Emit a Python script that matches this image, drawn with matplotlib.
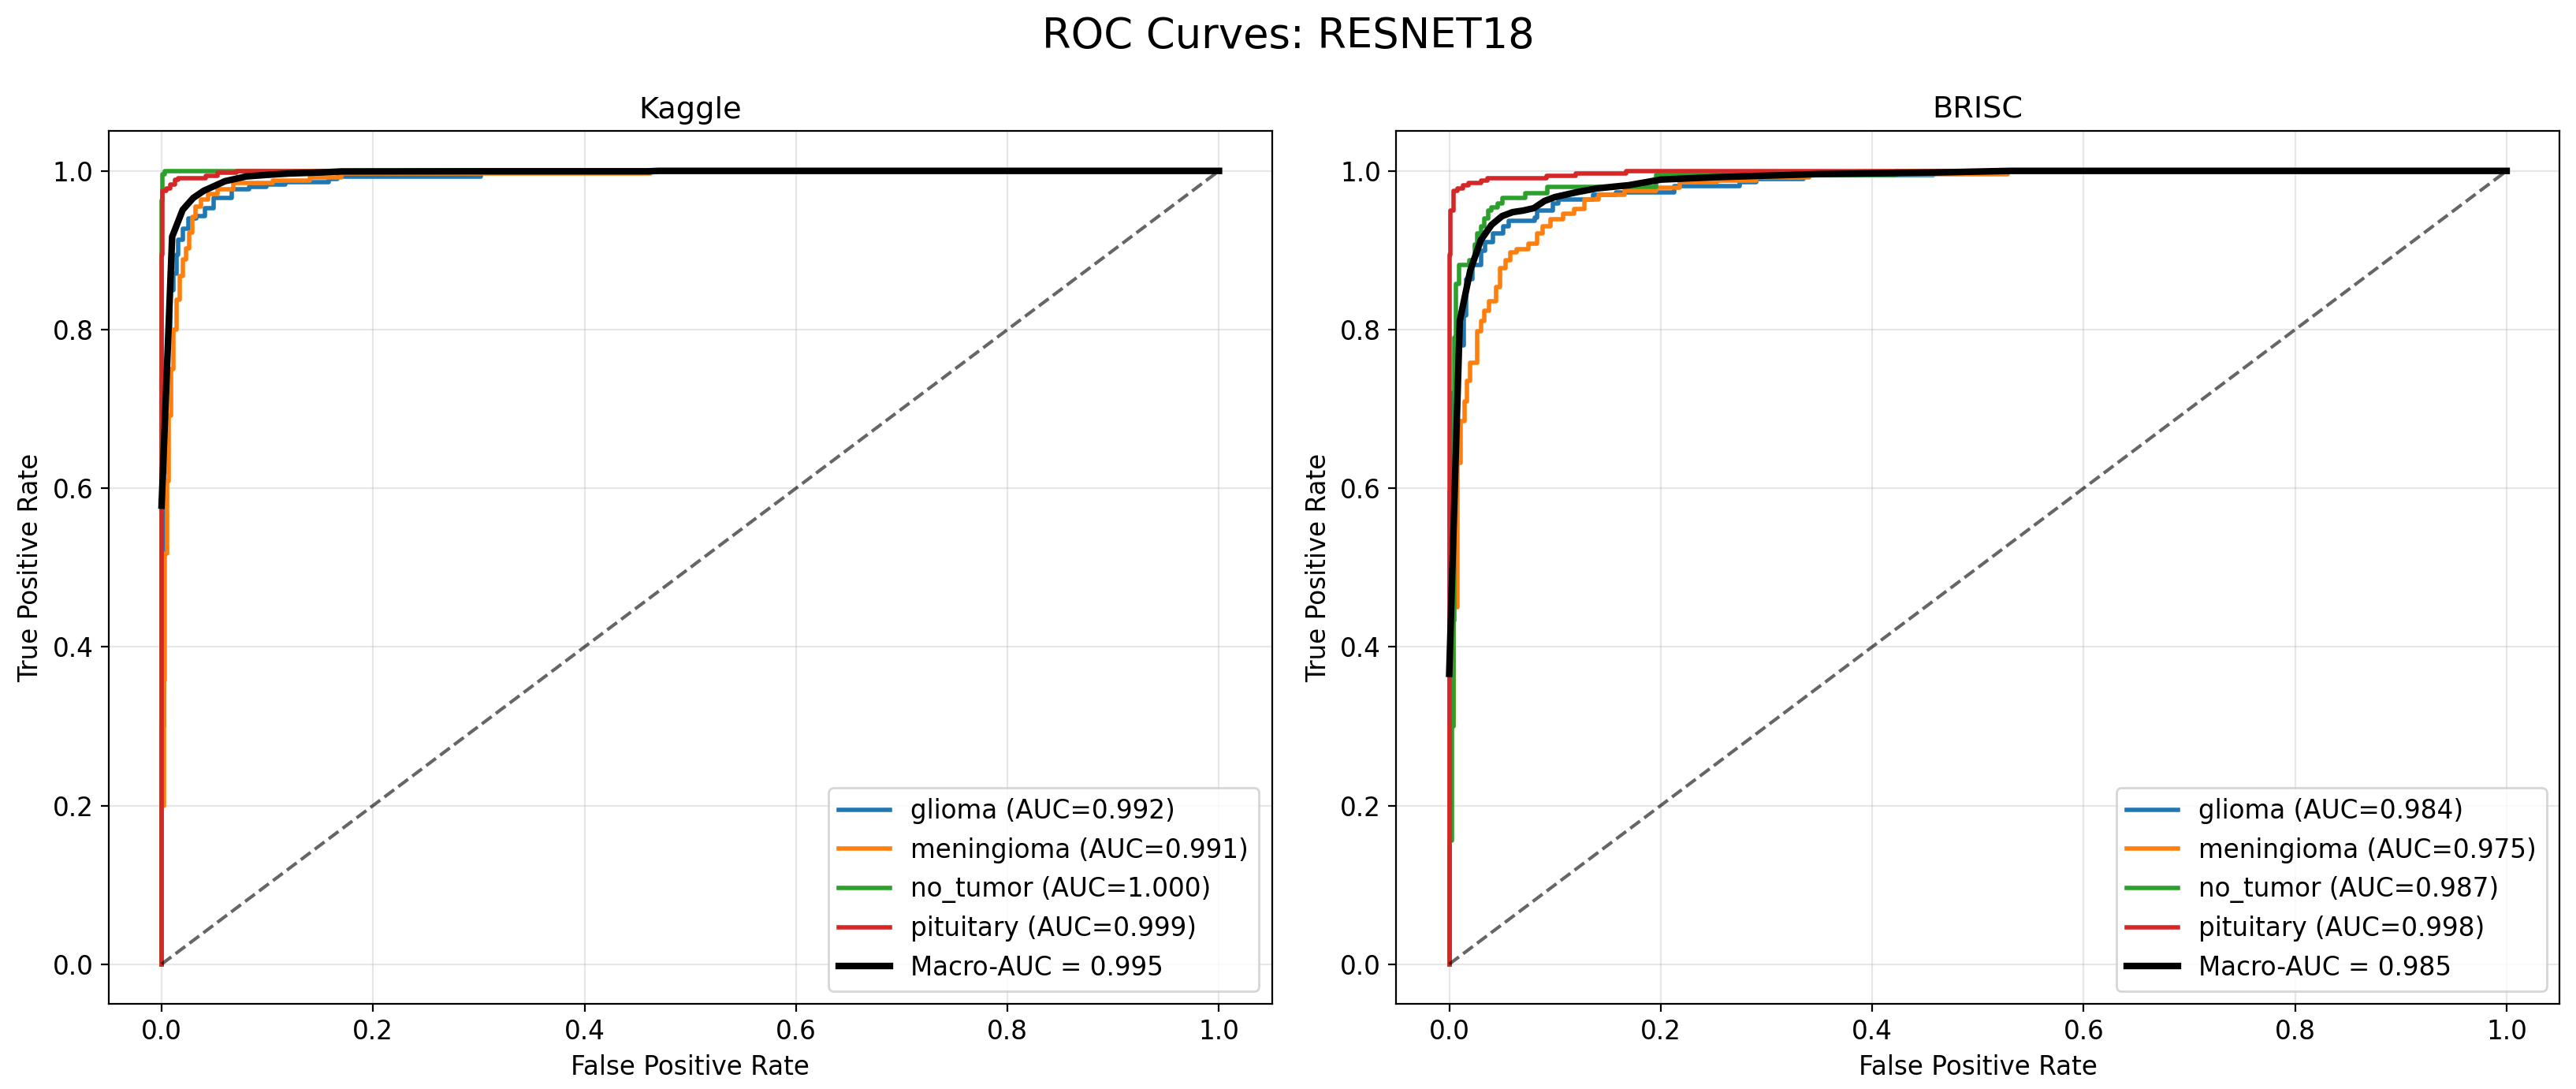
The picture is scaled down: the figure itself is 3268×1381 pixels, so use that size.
import numpy as np
import matplotlib
matplotlib.use("Agg")
import matplotlib.pyplot as plt

# ---- data (step points: x where the riser sits, top of riser) ----
class_names = ["glioma", "meningioma", "no_tumor", "pituitary"]
class_colors = ["#1f77b4", "#ff7f0e", "#2ca02c", "#d62728"]

kaggle_auc = [0.992, 0.991, 1.000, 0.999]
kaggle_macro_auc = 0.995
brisc_auc = [0.984, 0.975, 0.987, 0.998]
brisc_macro_auc = 0.985

# Kaggle
kaggle_glioma_fpr = [0, 0, 0.002, 0.004, 0.006, 0.008, 0.011, 0.014, 0.016, 0.020, 0.025, 0.033,
                     0.041, 0.049, 0.066, 0.083, 0.099, 0.117, 0.158, 0.166, 0.302, 1.0]
kaggle_glioma_tpr = [0, 0.30, 0.62, 0.72, 0.80, 0.85, 0.87, 0.894, 0.913, 0.927, 0.940, 0.943,
                     0.953, 0.966, 0.977, 0.980, 0.983, 0.986, 0.990, 0.993, 1.0, 1.0]

kaggle_mening_fpr = [0, 0, 0.002, 0.003, 0.005, 0.007, 0.009, 0.011, 0.0145, 0.017, 0.020, 0.023,
                     0.026, 0.029, 0.032, 0.037, 0.044, 0.053, 0.068, 0.105, 0.140, 0.170, 0.462, 1.0]
kaggle_mening_tpr = [0, 0.20, 0.358, 0.518, 0.609, 0.692, 0.75, 0.800, 0.838, 0.868, 0.888, 0.902,
                     0.922, 0.942, 0.955, 0.964, 0.971, 0.977, 0.985, 0.988, 0.992, 0.997, 1.0, 1.0]

kaggle_notumor_fpr = [0, 0, 0.001, 0.003, 1.0]
kaggle_notumor_tpr = [0, 0.963, 0.996, 1.0, 1.0]

kaggle_pitu_fpr = [0, 0, 0.001, 0.0045, 0.008, 0.0125, 0.016, 0.042, 0.053, 0.0705, 1.0]
kaggle_pitu_tpr = [0, 0.894, 0.975, 0.978, 0.983, 0.989, 0.991, 0.994, 0.998, 1.0, 1.0]

kaggle_macro_fpr = [0, 0.01, 0.02, 0.03, 0.04, 0.05, 0.06, 0.07, 0.08, 0.10, 0.12, 0.15, 0.17,
                    0.30, 0.46, 0.47, 1.0]
kaggle_macro_tpr = [0.578, 0.917, 0.951, 0.966, 0.975, 0.981, 0.987, 0.990, 0.993, 0.995, 0.9967,
                    0.998, 0.9993, 0.9995, 0.9995, 1.0, 1.0]

# BRISC
brisc_glioma_fpr = [0, 0, 0.003, 0.006, 0.014, 0.016, 0.022, 0.030, 0.034, 0.041, 0.051, 0.056,
                    0.081, 0.083, 0.098, 0.103, 0.136, 0.158, 0.213, 0.275, 0.290, 0.335, 0.458, 1.0]
brisc_glioma_tpr = [0, 0.596, 0.72, 0.78, 0.818, 0.864, 0.881, 0.899, 0.910, 0.921, 0.930, 0.937,
                    0.941, 0.950, 0.959, 0.964, 0.970, 0.973, 0.981, 0.986, 0.990, 0.995, 1.0, 1.0]

brisc_mening_fpr = [0, 0, 0.004, 0.0078, 0.011, 0.0146, 0.017, 0.020, 0.0266, 0.030, 0.033, 0.038,
                    0.044, 0.048, 0.053, 0.058, 0.0635, 0.075, 0.083, 0.088, 0.096, 0.108, 0.118,
                    0.128, 0.141, 0.166, 0.1955, 0.218, 0.253, 0.290, 0.340, 0.528, 1.0]
brisc_mening_tpr = [0, 0.30, 0.45, 0.632, 0.685, 0.709, 0.735, 0.758, 0.798, 0.811, 0.824, 0.836,
                    0.854, 0.877, 0.887, 0.897, 0.901, 0.908, 0.921, 0.930, 0.939, 0.946, 0.952,
                    0.964, 0.970, 0.975, 0.979, 0.986, 0.988, 0.992, 0.996, 1.0, 1.0]

brisc_notumor_fpr = [0, 0, 0.0024, 0.004, 0.005, 0.0062, 0.009, 0.019, 0.024, 0.0266, 0.030, 0.033,
                     0.037, 0.040, 0.046, 0.050, 0.072, 0.093, 0.1955, 0.422, 1.0]
brisc_notumor_tpr = [0, 0.156, 0.30, 0.433, 0.79, 0.858, 0.881, 0.887, 0.907, 0.921, 0.930, 0.940,
                     0.950, 0.954, 0.959, 0.966, 0.972, 0.980, 0.995, 1.0, 1.0]

brisc_pitu_fpr = [0, 0, 0.001, 0.004, 0.008, 0.013, 0.018, 0.030, 0.0365, 0.092, 0.120, 0.167, 1.0]
brisc_pitu_tpr = [0, 0.894, 0.950, 0.975, 0.978, 0.982, 0.985, 0.988, 0.991, 0.994, 0.997, 1.0, 1.0]

brisc_macro_fpr = [0, 0.01, 0.02, 0.03, 0.04, 0.05, 0.06, 0.07, 0.08, 0.09, 0.10, 0.12, 0.14,
                   0.17, 0.20, 0.25, 0.30, 0.35, 0.46, 0.53, 1.0]
brisc_macro_tpr = [0.366, 0.811, 0.875, 0.913, 0.932, 0.943, 0.948, 0.950, 0.953, 0.962, 0.967,
                   0.973, 0.978, 0.982, 0.989, 0.992, 0.994, 0.996, 0.998, 1.0, 1.0]

panels = [
    ("Kaggle",
     [(kaggle_glioma_fpr, kaggle_glioma_tpr), (kaggle_mening_fpr, kaggle_mening_tpr),
      (kaggle_notumor_fpr, kaggle_notumor_tpr), (kaggle_pitu_fpr, kaggle_pitu_tpr)],
     kaggle_auc, (kaggle_macro_fpr, kaggle_macro_tpr), kaggle_macro_auc),
    ("BRISC",
     [(brisc_glioma_fpr, brisc_glioma_tpr), (brisc_mening_fpr, brisc_mening_tpr),
      (brisc_notumor_fpr, brisc_notumor_tpr), (brisc_pitu_fpr, brisc_pitu_tpr)],
     brisc_auc, (brisc_macro_fpr, brisc_macro_tpr), brisc_macro_auc),
]

plt.rcParams["font.size"] = 11.75

fig, axs = plt.subplots(1, 2, figsize=(16.34, 6.905), dpi=200)
fig.subplots_adjust(left=0.0422, right=0.9936, bottom=0.0782, top=0.8795, wspace=0.107)

for ax, (title, curves, aucs, macro, macro_auc) in zip(axs, panels):
    for (fpr, tpr), name, color, auc in zip(curves, class_names, class_colors, aucs):
        ax.step(fpr, tpr, where="post", color=color, lw=2, label=f"{name} (AUC={auc:.3f})")
    ax.plot(macro[0], macro[1], color="k", lw=3, label=f"Macro-AUC = {macro_auc:.3f}")
    ax.plot([0, 1], [0, 1], "k--", alpha=0.6, lw=1.5)
    ax.set_title(title, fontsize=13.75)
    ax.set_xlabel("False Positive Rate")
    ax.set_ylabel("True Positive Rate")
    ax.grid(alpha=0.3)
    ax.legend(loc="lower right")

fig.suptitle("ROC Curves: RESNET18", fontsize=19, y=0.9855, va="top")
fig.savefig("out.png", dpi=200)
